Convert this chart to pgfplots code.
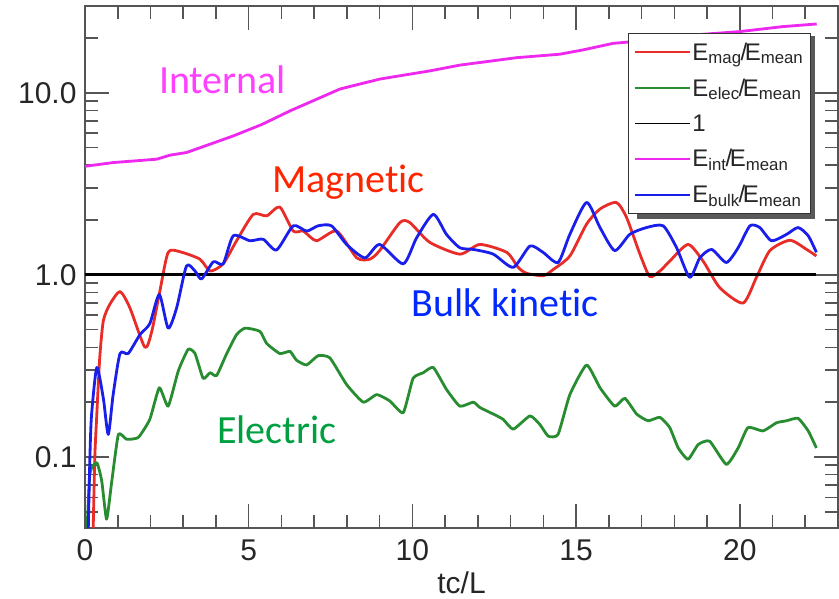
\documentclass[border=0pt]{standalone}
\usepackage{pgfplots}
\pgfplotsset{compat=1.18}
\usepackage{fontspec}
\setmainfont{Liberation Sans}
\newfontfamily\calibri[Ligatures=NoCommon]{Carlito}

\definecolor{magcol}{RGB}{232,44,40}
\definecolor{eleccol}{RGB}{40,140,48}
\definecolor{intcol}{RGB}{238,40,238}
\definecolor{bulkcol}{RGB}{26,30,235}
\definecolor{axcol}{RGB}{85,85,85}
\definecolor{txtInt}{RGB}{255,64,255}
\definecolor{txtMag}{RGB}{255,36,0}
\definecolor{txtBulk}{RGB}{0,40,255}
\definecolor{txtElec}{RGB}{0,160,64}

\newcommand{\ratio}[1]{E\textsubscript{#1}\kern-1pt/\kern-2.5pt E\textsubscript{mean}}

\begin{document}
\begin{tikzpicture}
\path[use as bounding box] (-85pt,-71pt) rectangle (754pt,528pt);
\begin{axis}[
  at={(0pt,0pt)}, anchor=south west,
  scale only axis, width=753pt, height=522pt,
  xmin=0, xmax=23,
  ymode=log, ymin=0.0407, ymax=30,
  xtick={0,5,10,15,20},
  minor xtick={1,2,3,4,6,7,8,9,11,12,13,14,16,17,18,19,21,22},
  ytick={0.1,1,10}, yticklabels={0.1,1.0,10.0},
  minor ytick={0.05,0.06,0.07,0.08,0.09,0.2,0.3,0.4,0.5,0.6,0.7,0.8,0.9,2,3,4,5,6,7,8,9,20},
  tick align=inside,
  major tick length=24pt, minor tick length=13pt,
  every tick/.style={axcol, line width=1.6pt},
  axis line style={axcol, line width=1.8pt},
  /pgf/number format/assume math mode=true,
  tick label style={font=\fontsize{30}{32}\selectfont, text=black!85},
  xticklabel style={anchor=base, yshift=-33pt},
  yticklabel style={anchor=east, xshift=-5pt},
  xlabel={tc/L},
  xlabel style={at={(axis description cs:0.5,0)}, anchor=base, yshift=-66pt,
                font=\fontsize{30}{32}\selectfont, text=black!85},
  legend style={at={(rel axis cs:0.9642,0.9483)}, anchor=north east,
                font=\fontsize{24}{26}\selectfont, text=black!85,
                draw=black!80, line width=1.5pt, fill=white,
                inner xsep=5pt, inner ysep=7pt, row sep=13pt},
  legend cell align=left,
  legend image code/.code={\draw[#1, line width=1.8pt] (0pt,0pt) -- (55pt,0pt);},
  every axis plot/.append style={line width=2.8pt, line join=round},
]

% magnetic energy / mean
\addplot[magcol, smooth, tension=0.4] coordinates {
(0.25,0.04)(0.3,0.1)(0.36,0.17)(0.45,0.35)(0.56,0.56)(0.76,0.69)(1.07,0.81)
(1.37,0.66)(1.83,0.40)(2.04,0.49)(2.29,0.82)(2.54,1.33)(2.9,1.34)(3.51,1.22)
(3.82,1.05)(4.22,1.15)(4.63,1.54)(5.14,2.15)(5.55,2.11)(5.95,2.36)(6.36,1.74)
(6.67,1.74)(7.07,1.54)(7.69,1.74)(8.3,1.24)(8.7,1.22)(9.0,1.36)(9.62,1.94)
(9.92,1.94)(10.53,1.51)(11.45,1.30)(12.06,1.47)(12.88,1.33)(13.23,1.10)
(13.49,1.02)(14.0,0.99)(14.3,1.07)(14.81,1.27)(15.32,1.90)(15.73,2.30)
(16.23,2.50)(16.54,2.07)(16.95,1.30)(17.25,0.98)(17.56,1.05)(17.86,1.19)
(18.42,1.47)(18.88,1.19)(19.39,0.85)(20.1,0.70)(20.51,0.97)(20.92,1.36)
(21.53,1.55)(22.04,1.38)(22.34,1.27)};
\addlegendentry{\ratio{mag}}

% electric energy / mean
\addplot[eleccol, smooth, tension=0.3] coordinates {
(0.05,0.035)(0.15,0.081)(0.36,0.093)(0.51,0.074)(0.66,0.0455)(0.82,0.074)
(1.02,0.133)(1.27,0.125)(1.63,0.128)(1.98,0.161)(2.27,0.24)(2.54,0.19)
(2.85,0.297)(3.15,0.39)(3.36,0.37)(3.61,0.27)(3.82,0.29)(4.02,0.28)(4.33,0.37)
(4.63,0.47)(4.89,0.51)(5.34,0.49)(5.55,0.42)(5.95,0.37)(6.26,0.38)(6.46,0.34)
(6.77,0.32)(7.12,0.36)(7.48,0.35)(7.99,0.25)(8.5,0.20)(8.91,0.22)(9.31,0.203)
(9.72,0.175)(10.02,0.27)(10.33,0.29)(10.64,0.31)(11.04,0.235)(11.45,0.19)
(11.86,0.20)(12.06,0.187)(12.47,0.172)(12.77,0.161)(13.08,0.142)(13.59,0.168)
(13.89,0.151)(14.15,0.130)(14.45,0.133)(14.81,0.22)(15.32,0.32)(15.73,0.24)
(16.18,0.19)(16.49,0.21)(16.85,0.172)(17.2,0.158)(17.56,0.165)(17.86,0.145)
(18.12,0.112)(18.42,0.097)(18.73,0.117)(19.08,0.122)(19.59,0.091)(19.95,0.112)
(20.25,0.145)(20.71,0.139)(21.12,0.154)(21.43,0.158)(21.78,0.163)(22.09,0.139)
(22.34,0.112)};
\addlegendentry{\ratio{elec}}

% reference level
\addplot[black] coordinates {(0,1)(22.34,1)};
\addlegendentry{1}

% internal energy / mean
\addplot[intcol] coordinates {
(0,3.95)(0.86,4.14)(2.19,4.32)(2.6,4.55)(3.1,4.70)(4.53,5.80)(5.4,6.7)
(6.26,7.96)(7.0,9.1)(7.79,10.5)(9.0,11.9)(10.53,13.2)(11.45,14.2)(13.18,15.6)
(14.5,16.3)(15.2,17.2)(16.13,18.7)(17.0,19.3)(18.27,20.6)(20.0,21.7)
(21.3,23.1)(22.35,23.9)};
\addlegendentry{\ratio{int}}

% bulk kinetic energy / mean
\addplot[bulkcol, smooth, tension=0.4] coordinates {
(0.1,0.04)(0.15,0.1)(0.2,0.17)(0.36,0.31)(0.56,0.21)(0.71,0.133)(0.86,0.22)
(1.07,0.37)(1.32,0.37)(1.68,0.47)(1.98,0.54)(2.27,0.78)(2.54,0.51)(2.8,0.66)
(3.1,1.12)(3.36,1.05)(3.56,0.95)(3.92,1.18)(4.22,1.15)(4.53,1.64)(5.04,1.54)
(5.44,1.57)(5.85,1.37)(6.36,1.86)(6.77,1.74)(7.12,1.86)(7.53,1.86)(7.99,1.47)
(8.55,1.24)(9.0,1.47)(9.72,1.15)(10.13,1.60)(10.64,2.15)(11.04,1.67)
(11.45,1.41)(11.86,1.38)(12.47,1.30)(13.08,1.10)(13.59,1.44)(13.99,1.33)
(14.45,1.17)(14.81,1.67)(15.32,2.50)(15.73,1.82)(16.18,1.36)(16.64,1.67)
(17.15,1.82)(17.66,1.86)(18.07,1.41)(18.47,0.97)(18.78,1.24)(19.14,1.38)
(19.59,1.17)(19.95,1.41)(20.31,1.86)(20.61,1.82)(20.97,1.54)(21.43,1.67)
(21.78,1.82)(22.09,1.64)(22.34,1.33)};
\addlegendentry{\ratio{bulk}}

% legend shadow
\fill[black!65] ([xshift=3.5pt,yshift=-3.5pt]rel axis cs:0.7278,0.5996)
  rectangle ([xshift=3.5pt,yshift=-3.5pt]rel axis cs:0.9642,0.9483);

% curve names
\node[anchor=base west, inner sep=0, text=txtInt, font=\calibri\fontsize{40}{44}\selectfont] at (axis cs:2.26,9.87) {Internal};
\node[anchor=base west, inner sep=0, text=txtMag, font=\calibri\fontsize{40}{44}\selectfont] at (axis cs:5.71,2.82) {Magnetic};
\node[anchor=base west, inner sep=0, text=txtBulk, font=\calibri\fontsize{40}{44}\selectfont] at (axis cs:9.98,0.588) {Bulk kinetic};
\node[anchor=base west, inner sep=0, text=txtElec, font=\calibri\fontsize{40}{44}\selectfont] at (axis cs:4.03,0.118) {Electric};
\end{axis}
\end{tikzpicture}
\end{document}
